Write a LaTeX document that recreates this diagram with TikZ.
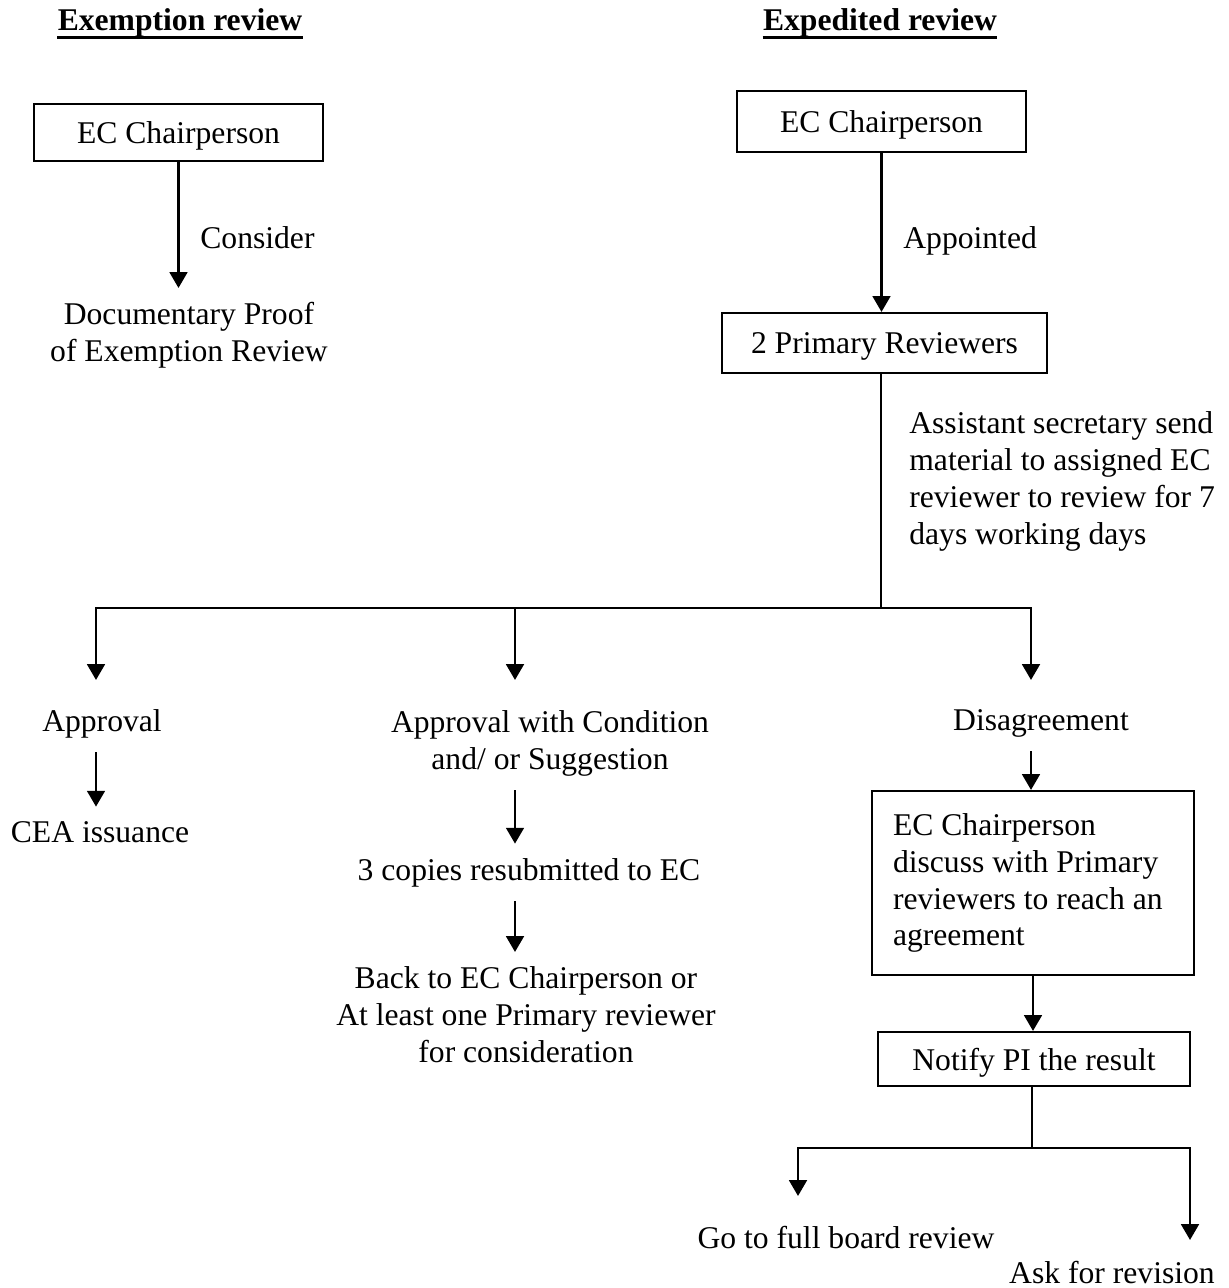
\documentclass[tikz,border=0pt]{standalone}
\usepackage{fontspec}
\setmainfont{Liberation Serif}
\usetikzlibrary{arrows.meta}

\tikzset{
    box/.style={draw, line width=1.2pt, text depth=0pt, inner sep=0pt},
    tallbox/.style={draw, line width=1.2pt, inner xsep=12pt, inner ysep=0pt, align=flush left},
    txt/.style={inner xsep=0pt, inner ysep=8pt, align=center},
    arr/.style={line width=1.6pt, -{Triangle[width=10pt,length=9pt]}},
    ln/.style={line width=1.6pt}
}

\begin{document}
\begin{tikzpicture}[x=0.02cm, y=-0.02cm, font=\fontsize{18}{21}\selectfont]
            \useasboundingbox (0,0) rectangle (1229,1288);

            \node[txt, anchor=base] (hexm) at (180,31) {\textbf{Exemption review}};
            \node[txt, anchor=base] (hexp) at (880,31) {\textbf{Expedited review}};
            \draw[line width=1.7pt] ([yshift=-3.5pt]hexm.base west) -- ([yshift=-3.5pt]hexm.base east);
            \draw[line width=1.7pt] ([yshift=-3.5pt]hexp.base west) -- ([yshift=-3.5pt]hexp.base east);

            \node[box, minimum width=5.78cm, minimum height=1.14cm] (ecL) at (178.5,132.5) {EC Chairperson};
            \node[txt, anchor=north] (docL) at (189,288) {Documentary Proof\\of Exemption Review};
            \node[txt, anchor=base west] (cons) at (200,248) {Consider};
            \draw[arr] (ecL.south) -- (ecL.south |- docL.north);

            \node[box, minimum width=5.78cm, minimum height=1.22cm] (ecR) at (881.5,121.5) {EC Chairperson};
            \node[box, minimum width=6.5cm, minimum height=1.2cm] (pr) at (884.5,343) {2 Primary Reviewers};
            \node[txt, anchor=base west] (appt) at (903,248) {Appointed};
            \draw[arr] (ecR.south) -- (ecR.south |- pr.north);

            \node[txt, anchor=north west, align=left] (asst) at (909,397) {Assistant secretary send\\material to assigned EC\\reviewer to review for 7\\days working days};

            \coordinate (j1) at (881,608);
            \coordinate (tA) at (96,680);
            \coordinate (tB) at (515,680);
            \coordinate (tC) at (1031,680);
            \draw[ln] (j1 |- pr.south) -- (j1);
            \draw[arr] (j1) -| (tA);
            \draw[arr] (j1) -| (tB);
            \draw[arr] (j1) -| (tC);

            \node[txt, anchor=base] (appr) at (102,731) {Approval};
            \node[txt, anchor=base] (cea) at (100,842) {CEA issuance};
            \draw[arr] (tA |- appr.south) -- (tA |- cea.north);

            \node[txt, anchor=north] (cond) at (550,696) {Approval with Condition\\and/ or Suggestion};
            \node[txt, anchor=base] (copies) at (529,880) {3 copies resubmitted to EC};
            \node[txt, anchor=north] (back) at (526,952) {Back to EC Chairperson or\\At least one Primary reviewer\\for consideration};
            \draw[arr] (tB |- cond.south) -- (tB |- copies.north);
            \draw[arr] (tB |- copies.south) -- (tB |- back.north);

            \node[txt, anchor=base] (dis) at (1041,730) {Disagreement};
            \node[tallbox, text width=5.6cm, minimum height=3.68cm] (dbox) at (1033,883) {EC Chairperson\\discuss with Primary\\reviewers to reach an\\agreement};
            \draw[arr] (tC |- dis.south) -- (tC |- dbox.north);

            \node[box, minimum width=6.24cm, minimum height=1.08cm] (notify) at (1034,1059) {Notify PI the result};
            \draw[arr] (dbox.south) -- (dbox.south |- notify.north);

            \coordinate (j2) at (1032,1148);
            \coordinate (tD) at (798,1196);
            \coordinate (tE) at (1190,1240);
            \draw[ln] (j2 |- notify.south) -- (j2);
            \draw[arr] (j2) -| (tD);
            \draw[arr] (j2) -| (tE);

            \node[txt, anchor=base] (full) at (846,1248) {Go to full board review};
            \node[txt, anchor=base] (ask) at (1112,1283) {Ask for revision};
        \end{tikzpicture}
\end{document}
